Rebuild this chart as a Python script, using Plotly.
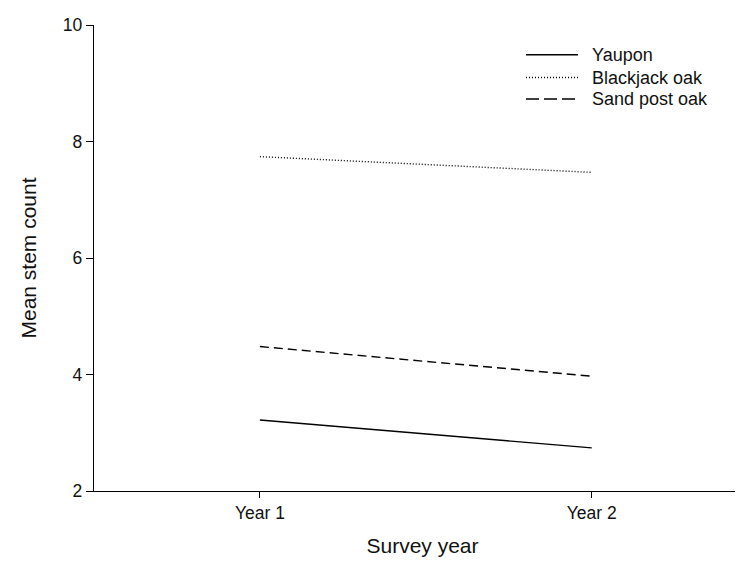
import plotly.graph_objects as go

years = ["Year 1", "Year 2"]
year_pos = [1, 2]
species = ["Yaupon", "Blackjack oak", "Sand post oak"]
yaupon = [3.22, 2.74]
blackjack = [7.74, 7.47]
sand_post = [4.48, 3.97]
series_values = [yaupon, blackjack, sand_post]
dashes = ["solid", "1px,2px", "9px,5px"]
legend_dashes = ["solid", "1px,2px", "13px,5px"]
y_ticks = [2, 4, 6, 8, 10]

FONT = "Liberation Sans, Arial, sans-serif"

fig = go.Figure()
for name, vals, dash in zip(species, series_values, dashes):
    fig.add_trace(go.Scatter(
        x=year_pos, y=vals, mode="lines", name=name,
        line=dict(color="black", width=1.4, dash=dash),
        showlegend=False,
    ))

# manual legend (sample lines + labels)
leg_x0, leg_x1, leg_tx = 518, 570, 584
leg_rows = [46.7, 69.5, 91.0]
W, H = 743, 567
ml, mr, mt, mb = 86, 0, 17, 84
pw, ph = W - ml - mr, H - mt - mb
def px_to_paper_x(px):
    return (px - ml) / pw
def px_to_paper_y(py):
    return 1 - (py - mt) / ph

for name, dash, ry in zip(species, legend_dashes, leg_rows):
    fig.add_shape(type="line", xref="paper", yref="paper",
                  x0=px_to_paper_x(leg_x0), x1=px_to_paper_x(leg_x1),
                  y0=px_to_paper_y(ry), y1=px_to_paper_y(ry),
                  line=dict(color="black", width=1.4, dash=dash))
    fig.add_annotation(xref="paper", yref="paper",
                       x=px_to_paper_x(leg_tx), y=px_to_paper_y(ry),
                       text=name, showarrow=False, xanchor="left", yanchor="middle",
                       xshift=-2,
                       font=dict(family=FONT, size=18, color="#111"))

fig.update_layout(
    width=W, height=H,
    margin=dict(l=ml, r=mr, t=mt, b=mb),
    plot_bgcolor="white", paper_bgcolor="white",
    font=dict(family=FONT, color="#111"),
    xaxis=dict(
        range=[0.5, 2.48], tickvals=year_pos, ticktext=years,
        showline=True, linecolor="black", linewidth=1.4,
        ticks="outside", ticklen=6, tickwidth=1.2, tickcolor="black",
        showgrid=False, zeroline=False,
        tickfont=dict(size=17.5),
        title=dict(text="Survey year", font=dict(size=21), standoff=16),
    ),
    yaxis=dict(
        range=[2, 10], tickvals=y_ticks,
        showline=True, linecolor="black", linewidth=1.4,
        ticks="outside", ticklen=7, tickwidth=1.2, tickcolor="black",
        showgrid=False, zeroline=False,
        tickfont=dict(size=17.5),
        title=dict(text="Mean stem count", font=dict(size=21), standoff=20),
    ),
)

fig.write_html("out.html")
